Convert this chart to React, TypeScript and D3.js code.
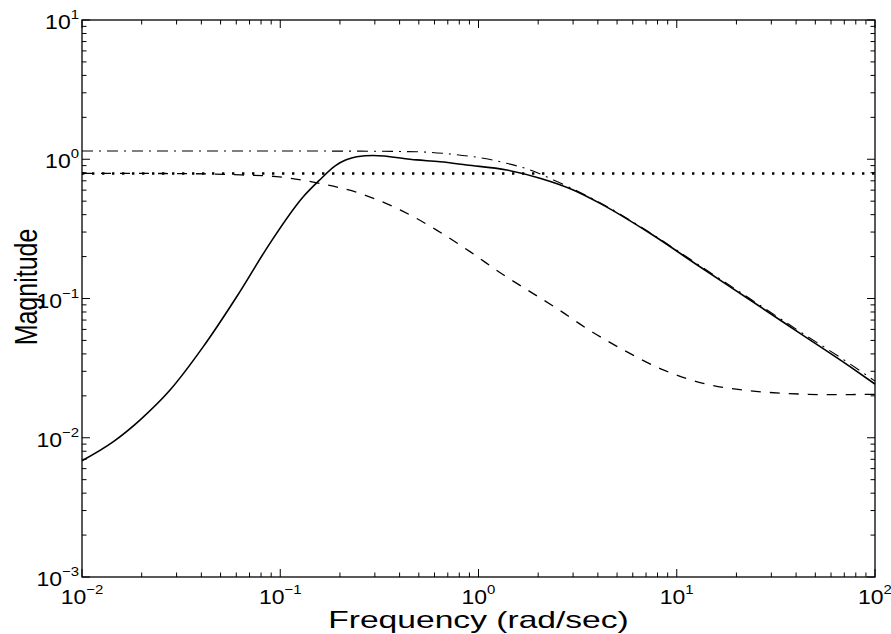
import React from "react";
import * as d3 from "d3";

// ---- data (frequency in rad/sec, magnitude) ----
const solidFreq = [0.01, 0.0144, 0.0196, 0.0278, 0.0409, 0.0603, 0.0887, 0.1306, 0.158, 0.19, 0.215, 0.243, 0.294, 0.488, 0.64, 0.871, 1.387, 2.042, 3.006, 4.102, 7.328, 13.09, 23.44, 41.88, 74.82, 100];
const solidMag = [0.00684, 0.00938, 0.0134, 0.022, 0.0451, 0.103, 0.249, 0.538, 0.71, 0.9, 0.99, 1.042, 1.064, 0.989, 0.959, 0.91, 0.838, 0.73, 0.601, 0.482, 0.294, 0.169, 0.0975, 0.0562, 0.0324, 0.0243];

const dashedFreq = [0.01, 0.0316, 0.0562, 0.0959, 0.158, 0.252, 0.402, 0.615, 0.906, 1.334, 1.652, 2.477, 3.648, 5.585, 8.551, 13.61, 21.68, 35.89, 59.29, 100];
const dashedMag = [0.792, 0.789, 0.776, 0.75, 0.671, 0.569, 0.433, 0.31, 0.217, 0.148, 0.122, 0.0851, 0.0589, 0.0415, 0.0307, 0.0246, 0.022, 0.0208, 0.0204, 0.0205];

const dashDotFreq = [0.01, 0.1, 0.251, 0.488, 0.718, 1.057, 1.387, 1.82, 2.388, 3.006, 4.102, 7.328, 13.09, 23.44, 41.88, 74.82, 100];
const dashDotMag = [1.146, 1.146, 1.143, 1.132, 1.091, 1.016, 0.935, 0.838, 0.71, 0.61, 0.488, 0.297, 0.172, 0.0995, 0.0578, 0.0339, 0.0255];

const dottedFreq = [0.01, 100];
const dottedMag = [0.79, 0.79];

const xDecades = [-2, -1, 0, 1, 2];
const yDecades = [-3, -2, -1, 0, 1];
const xLabel = "Frequency (rad/sec)";
const yLabel = "Magnitude";

// ---- layout ----
const W = 891;
const H = 634;
const left = 82;
const right = 875;
const top = 20;
const bottom = 577;
const majorLen = 8;
const minorLen = 4.5;
const font = "'Liberation Sans', Arial, Helvetica, sans-serif";
const stretch = 1.15;

const x = d3.scaleLog().domain([0.01, 100]).range([left, right]);
const y = d3.scaleLog().domain([0.001, 10]).range([bottom, top]);

function minorValues(decades: number[]) {
  const out: number[] = [];
  for (let i = 0; i < decades.length - 1; i++) {
    for (let k = 2; k <= 9; k++) out.push(k * Math.pow(10, decades[i]));
  }
  return out;
}

function pathOf(fs: number[], ms: number[]) {
  const pts = fs.map((f, i) => [x(f), y(ms[i])] as [number, number]);
  return d3.line().curve(d3.curveMonotoneX)(pts) || "";
}

function exp(e: number) {
  return e < 0 ? "\u2212" + Math.abs(e) : String(e);
}

export default function App() {
  const xMinor = minorValues(xDecades);
  const yMinor = minorValues(yDecades);
  const ticks: any[] = [];
  xDecades.forEach((d, i) => {
    const px = x(Math.pow(10, d));
    ticks.push(<line key={"xb" + i} x1={px} x2={px} y1={bottom} y2={bottom - majorLen} />);
    ticks.push(<line key={"xt" + i} x1={px} x2={px} y1={top} y2={top + majorLen} />);
  });
  xMinor.forEach((v, i) => {
    const px = x(v);
    ticks.push(<line key={"xbm" + i} x1={px} x2={px} y1={bottom} y2={bottom - minorLen} />);
    ticks.push(<line key={"xtm" + i} x1={px} x2={px} y1={top} y2={top + minorLen} />);
  });
  yDecades.forEach((d, i) => {
    const py = y(Math.pow(10, d));
    ticks.push(<line key={"yl" + i} x1={left} x2={left + majorLen} y1={py} y2={py} />);
    ticks.push(<line key={"yr" + i} x1={right} x2={right - majorLen} y1={py} y2={py} />);
  });
  yMinor.forEach((v, i) => {
    const py = y(v);
    ticks.push(<line key={"ylm" + i} x1={left} x2={left + minorLen} y1={py} y2={py} />);
    ticks.push(<line key={"yrm" + i} x1={right} x2={right - minorLen} y1={py} y2={py} />);
  });

  return (
    <div style={{ position: "fixed", left: 0, top: 0 }}>
      <svg width={W} height={H} viewBox={`0 0 ${W} ${H}`} style={{ display: "block", background: "#fff" }}>
        <rect x={0} y={0} width={W} height={H} fill="#fff" />
        <g fill="none" stroke="#000">
          <path d={pathOf(dottedFreq, dottedMag)} strokeWidth={2.4} strokeDasharray="2.4 7.6" />
          <path d={pathOf(dashedFreq, dashedMag)} strokeWidth={1.3} strokeDasharray="10 9" />
          <path d={pathOf(dashDotFreq, dashDotMag)} strokeWidth={1.1} strokeDasharray="11 6 2 6" />
          <path d={pathOf(solidFreq, solidMag)} strokeWidth={1.6} />
        </g>
        <g stroke="#000" strokeWidth={1}>{ticks}</g>
        <rect x={left} y={top} width={right - left} height={bottom - top} fill="none" stroke="#000" strokeWidth={1.3} />
        <g fontFamily={font} fill="#000">
          {xDecades.map((d, i) => (
            <text key={"xl" + i} transform={`translate(${x(Math.pow(10, d))},604) scale(${stretch},1)`} textAnchor="middle" fontSize={20}>
              10<tspan fontSize={13} dy={-10}>{exp(d)}</tspan>
            </text>
          ))}
          {yDecades.map((d, i) => (
            <text key={"yl" + i} transform={`translate(${left - 3},${y(Math.pow(10, d)) + 9}) scale(${stretch},1)`} textAnchor="end" fontSize={20}>
              10<tspan fontSize={13} dy={-10}>{exp(d)}</tspan>
            </text>
          ))}
          <text transform={`translate(${(left + right) / 2},628) scale(1.4,1)`} textAnchor="middle" fontSize={24}>
            {xLabel}
          </text>
          <text transform={`translate(37,287) scale(1.25,1) rotate(-90)`} textAnchor="middle" fontSize={25}>
            {yLabel}
          </text>
        </g>
      </svg>
    </div>
  );
}
